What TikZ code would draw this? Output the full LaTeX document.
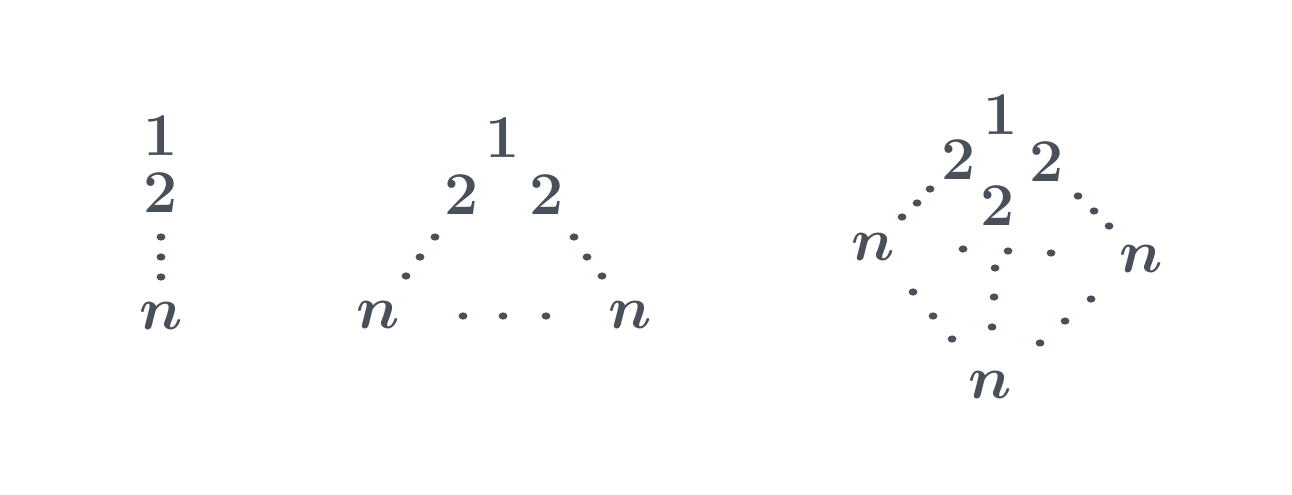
\documentclass[tikz,border=0pt]{standalone}
\usepackage{amsmath,amssymb}
\usepackage{xcolor}
\usetikzlibrary{positioning}
\definecolor{inkgray}{RGB}{74,80,89}

\begin{document}
\begin{tikzpicture}[x=0.01cm, y=-0.01cm,
    lbl/.style={inner sep=0pt, text=inkgray,
                font=\fontsize{17.7}{20}\selectfont\boldmath},
    dotfill/.style={fill=inkgray}]
\useasboundingbox (0,0) rectangle (1292,494);

% chain
\node[lbl] (c1) at (161,136) {$1$};
\node[lbl] (c2) at (161,193) {$2$};
\node[lbl] (cn) at (161,316) {$n$};
\foreach \y in {237,257,277}
  \fill[dotfill] (161,\y) ellipse [x radius=4.4, y radius=3.6];

% triangle
\node[lbl] (t1) at (503,138) {$1$};
\node[lbl] (t2l) at (462,195) {$2$};
\node[lbl] (t2r) at (547,195) {$2$};
\node[lbl] (tnl) at (378,315) {$n$};
\node[lbl] (tnr) at (630,315) {$n$};
\foreach \p in {(435,237),(420,257),(406,276),
                (574,237),(587,257),(602,276),
                (463,316),(503,316),(546,316)}
  \fill[dotfill] \p ellipse [x radius=4.4, y radius=3.6];

% tetrahedron
\node[lbl] (h1) at (1001,115) {$1$};
\node[lbl] (h2l) at (959,160) {$2$};
\node[lbl] (h2r) at (1047,162) {$2$};
\node[lbl] (h2m) at (998,206) {$2$};
\node[lbl] (hnl) at (873,247) {$n$};
\node[lbl] (hnr) at (1141,259) {$n$};
\node[lbl] (hnb) at (990,385) {$n$};
\foreach \p in {(930,189),(917,203),(902,217),
                (1078,196),(1094,211),(1109,226),
                (963,249),(1008,251),(1051,253),
                (995,268),(994,297),(992,327),
                (913,292),(933,316),(952,339),
                (1091,299),(1065,321),(1040,343)}
  \fill[dotfill] \p ellipse [x radius=4.4, y radius=3.6];
\end{tikzpicture}
\end{document}
